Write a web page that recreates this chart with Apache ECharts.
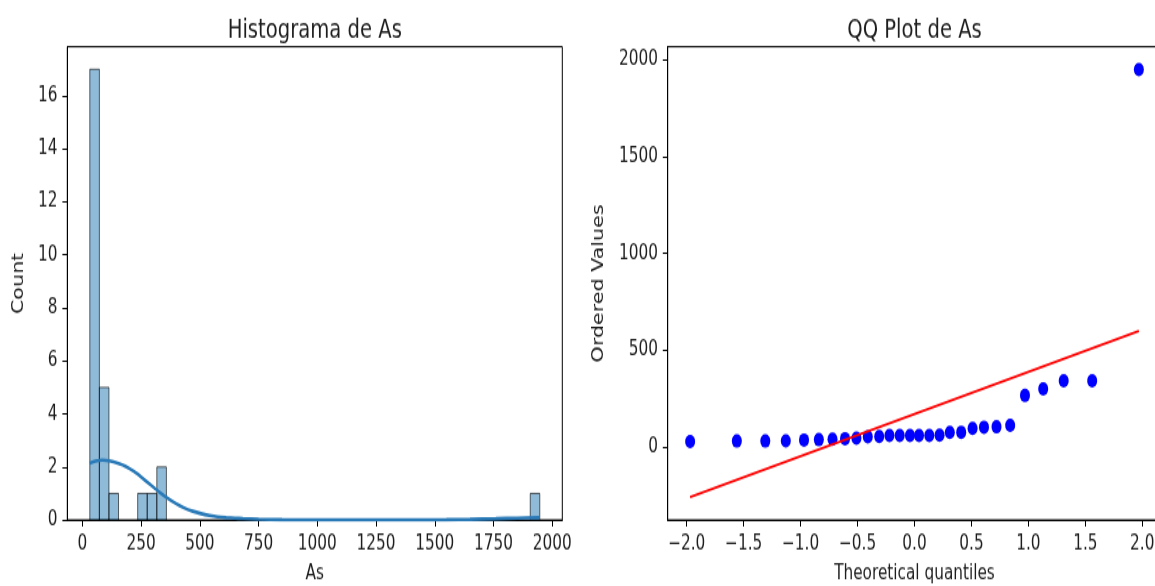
<!DOCTYPE html>
<html><head><meta charset="utf-8">
<script src="https://cdn.jsdelivr.net/npm/echarts@6/dist/echarts.min.js"></script>
<style>
html,body{margin:0;padding:0;background:#fff;overflow:hidden;width:1155px;height:586px}
#chart{width:1155px;height:434px;transform:scaleY(1.3502);transform-origin:0 0}
</style>
</head><body><div id="chart"></div>
<script>
// ---- data ----
const histTitle = 'Histograma de As';
const qqTitle = 'QQ Plot de As';
const binLeft  = [31.5, 72.3, 113.0, 235.3, 276.0, 316.8, 1906.5];
const binRight = [72.3, 113.0, 153.8, 276.0, 316.8, 357.6, 1947.2];
const binCount = [17, 5, 1, 1, 1, 2, 1];
const kdeX = [31.5, 55, 85, 120, 150, 185, 220, 256, 290, 327, 360, 398, 430, 470, 505, 541, 575, 612, 650, 683, 750, 850, 1000, 1200, 1400, 1550, 1650, 1760, 1850, 1947.2];
const kdeY = [2.15, 2.22, 2.26, 2.22, 2.14, 2.02, 1.83, 1.58, 1.33, 1.06, 0.84, 0.62, 0.47, 0.33, 0.24, 0.17, 0.12, 0.09, 0.07, 0.055, 0.03, 0.012, 0.004, 0.002, 0.004, 0.012, 0.025, 0.05, 0.072, 0.088];
const histXTicks = [0, 250, 500, 750, 1000, 1250, 1500, 1750, 2000];
const histYTicks = [0, 2, 4, 6, 8, 10, 12, 14, 16];
const qqTheoretical = [-1.97, -1.56, -1.31, -1.13, -0.97, -0.84, -0.72, -0.61, -0.51, -0.41, -0.31, -0.22, -0.13, -0.04, 0.04, 0.13, 0.22, 0.31, 0.41, 0.51, 0.61, 0.72, 0.84, 0.97, 1.13, 1.31, 1.56, 1.97];
const qqOrdered = [30, 33, 33, 34, 38, 40, 43, 45, 48, 55, 57, 62, 62, 62, 62, 62, 63, 77, 78, 98, 104, 106, 114, 268, 302, 343, 343, 1947];
const fitX = [-1.97, 1.97];
const fitY = [-256, 600];
const qqXTicks = [-2.0, -1.5, -1.0, -0.5, 0.0, 0.5, 1.0, 1.5, 2.0];
const qqYTicks = [0, 500, 1000, 1500, 2000];

// ---- styling ----
const FONT = 'DejaVu Sans';
const TXT = '#1e1e1e';
const labelStyle = {fontFamily: FONT, fontSize: 15.3, color: TXT};
const fmtMinus = (v, d) => (v < 0 ? '\u2212' : '') + Math.abs(v).toFixed(d);

function axisCommon(ticks, fmt, margin) {
  return {
    type: 'value',
    splitLine: {show: false},
    axisLine: {show: true, onZero: false, lineStyle: {color: '#000', width: 1}},
    axisTick: {show: true, customValues: ticks, length: 4.9, lineStyle: {color: '#000', width: 1}},
    axisLabel: Object.assign({customValues: ticks, formatter: fmt, margin: margin}, labelStyle),
    nameLocation: 'middle',
    nameTextStyle: Object.assign({}, labelStyle)
  };
}

const chart = echarts.init(document.getElementById('chart'), null, {renderer: 'canvas'});
const gridTop = 34.6, gridH = 350.5;
chart.setOption({
  animation: false,
  backgroundColor: '#fff',
  title: [
    {text: histTitle, left: 309.8, top: 8.3, textAlign: 'center', textStyle: {fontFamily: FONT, fontSize: 19.6, fontWeight: 'normal', color: TXT}},
    {text: qqTitle, left: 909.5, top: 8.3, textAlign: 'center', textStyle: {fontFamily: FONT, fontSize: 19.6, fontWeight: 'normal', color: TXT}}
  ],
  grid: [
    {left: 67.3, width: 495, top: gridTop, height: gridH, show: true, borderColor: '#000', borderWidth: 1, backgroundColor: 'transparent', outerBoundsMode: 'none', containLabel: false},
    {left: 667.7, width: 493.6, top: gridTop, height: gridH, show: true, borderColor: '#000', borderWidth: 1, backgroundColor: 'transparent', outerBoundsMode: 'none', containLabel: false}
  ],
  xAxis: [
    Object.assign(axisCommon(histXTicks, v => String(Math.round(v)), 10), {gridIndex: 0, min: -64.3, max: 2043, name: 'As', nameGap: 32}),
    Object.assign(axisCommon(qqXTicks, v => fmtMinus(v, 1), 10), {gridIndex: 1, min: -2.167, max: 2.167, name: 'Theoretical quantiles', nameGap: 32})
  ],
  yAxis: [
    Object.assign(axisCommon(histYTicks, v => String(Math.round(v)), 9.8), {gridIndex: 0, min: 0, max: 17.85, name: 'Count', nameRotate: 90, nameGap: 40.5}),
    Object.assign(axisCommon(qqYTicks, v => fmtMinus(v, 0), 9.8), {gridIndex: 1, min: -374, max: 2065, name: 'Ordered Values', nameRotate: 90, nameGap: 61.6})
  ],
  series: [
    {
      type: 'custom', xAxisIndex: 0, yAxisIndex: 0,
      data: binLeft.map((l, i) => [l, binRight[i], binCount[i]]),
      encode: {x: [0, 1], y: 2},
      renderItem: function (params, api) {
        const p0 = api.coord([api.value(0), api.value(2)]);
        const p1 = api.coord([api.value(1), 0]);
        return {
          type: 'rect',
          shape: {x: p0[0], y: p0[1], width: p1[0] - p0[0], height: p1[1] - p0[1]},
          style: {fill: 'rgba(31,119,180,0.5)', stroke: 'rgba(0,0,0,0.6)', lineWidth: 1}
        };
      }
    },
    {
      type: 'line', xAxisIndex: 0, yAxisIndex: 0,
      data: kdeX.map((x, i) => [x, kdeY[i]]),
      smooth: 0.25, showSymbol: false, symbol: 'none',
      lineStyle: {color: '#2a7ab8', width: 2.6}
    },
    {
      type: 'scatter', xAxisIndex: 1, yAxisIndex: 1,
      data: qqTheoretical.map((x, i) => [x, qqOrdered[i]]),
      symbol: 'circle', symbolSize: 10,
      itemStyle: {color: '#0000ff', opacity: 1}
    },
    {
      type: 'line', xAxisIndex: 1, yAxisIndex: 1,
      data: fitX.map((x, i) => [x, fitY[i]]),
      showSymbol: false, symbol: 'none',
      lineStyle: {color: '#ff0000', width: 2}
    }
  ]
});
</script>
</body></html>
